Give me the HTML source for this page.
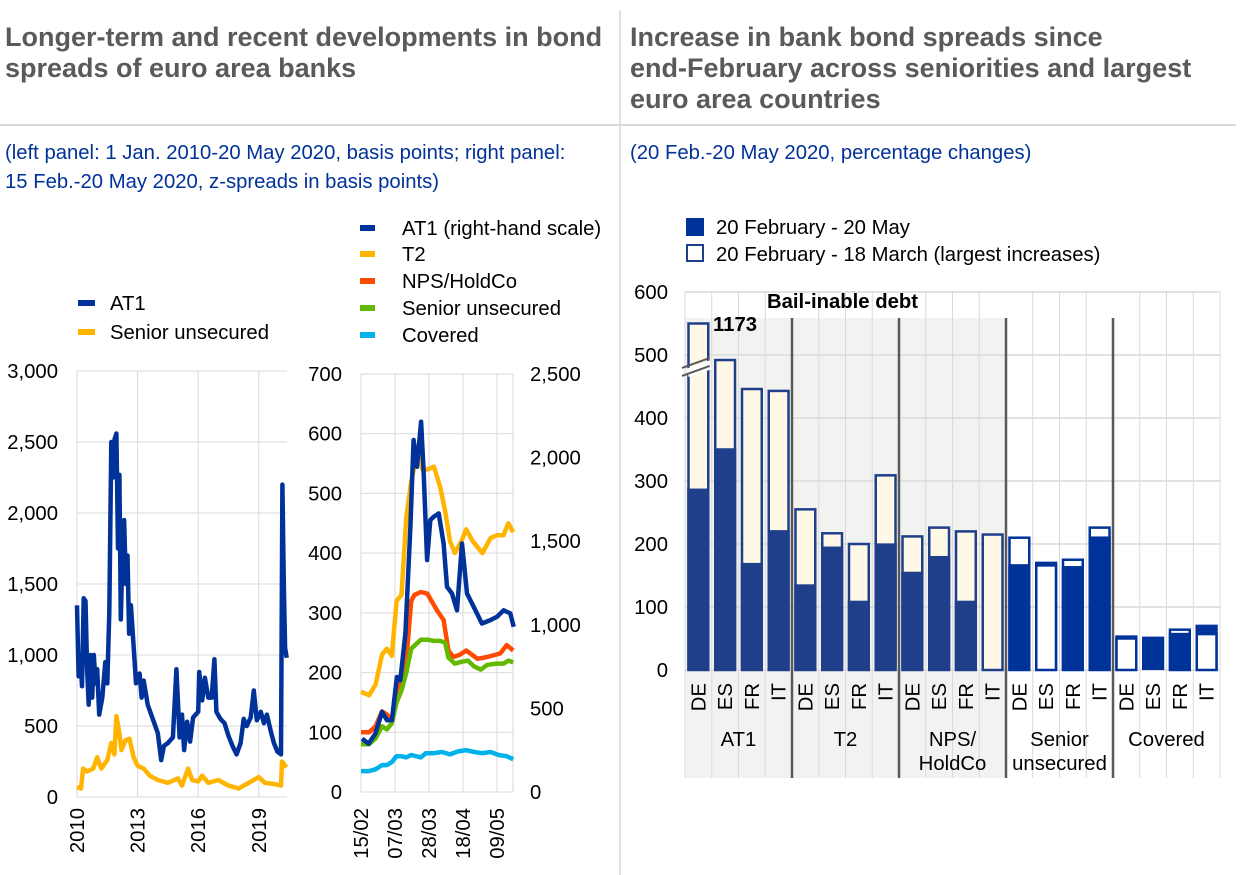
<!DOCTYPE html>
<html><head><meta charset="utf-8">
<style>
html,body{margin:0;padding:0;background:#fff;}
body{width:1240px;height:875px;overflow:hidden;position:relative;font-family:"Liberation Sans",Arial,sans-serif;}
.t{position:absolute;font-weight:bold;color:#5a5a5a;font-size:27px;line-height:31px;white-space:nowrap;}
.s{position:absolute;color:#003299;font-size:20.3px;line-height:29px;white-space:nowrap;}
svg{position:absolute;left:0;top:0;}
</style></head><body>
<div class="t" style="left:5px;top:22px;">Longer-term and recent developments in bond<br>spreads of euro area banks</div>
<div class="t" style="left:630px;top:22px;">Increase in bank bond spreads since<br>end-February across seniorities and largest<br>euro area countries</div>
<div class="s" style="left:5px;top:139px;">(left panel: 1 Jan. 2010-20 May 2020, basis points; right panel:<br>15 Feb.-20 May 2020, z-spreads in basis points)</div>
<div class="s" style="left:630px;top:139px;">(20 Feb.-20 May 2020, percentage changes)</div>
<svg id="c" width="1240" height="875" xmlns="http://www.w3.org/2000/svg"></svg>
<script>
// ---------- left panel data ----------
const ltYearsAT1=[2010.0,2010.08,2010.17,2010.25,2010.33,2010.42,2010.5,2010.58,2010.67,2010.75,2010.83,2010.92,2011.0,2011.1,2011.25,2011.4,2011.5,2011.6,2011.7,2011.78,2011.86,2011.95,2012.03,2012.1,2012.17,2012.25,2012.33,2012.42,2012.5,2012.58,2012.67,2012.83,2012.92,2013.1,2013.2,2013.3,2013.5,2013.8,2014.0,2014.17,2014.3,2014.5,2014.75,2014.92,2015.08,2015.2,2015.3,2015.45,2015.6,2015.75,2016.0,2016.05,2016.2,2016.33,2016.5,2016.67,2016.8,2016.9,2017.1,2017.3,2017.5,2017.7,2017.9,2018.1,2018.25,2018.4,2018.6,2018.75,2018.9,2019.1,2019.25,2019.4,2019.6,2019.75,2019.92,2020.1,2020.17,2020.24,2020.3,2020.38];
const ltAT1=[1350,850,1000,780,1400,1380,900,650,1000,700,1000,800,900,580,700,950,800,1300,2500,2250,2520,2560,1750,2270,1250,1700,1950,1500,1700,1150,1350,1000,800,870,700,820,650,530,450,260,360,380,420,900,420,580,330,530,390,560,600,880,680,840,700,700,970,600,550,520,430,360,300,380,550,500,560,750,540,600,520,580,460,380,320,300,2200,1500,1050,980];
const ltYearsSU=[2010.0,2010.2,2010.3,2010.5,2010.8,2011.0,2011.2,2011.5,2011.7,2011.85,2011.95,2012.1,2012.2,2012.4,2012.6,2012.8,2013.0,2013.3,2013.6,2014.0,2014.5,2015.0,2015.2,2015.5,2015.7,2016.0,2016.2,2016.5,2017.0,2017.5,2018.0,2018.5,2019.0,2019.3,2019.8,2020.1,2020.15,2020.3,2020.38];
const ltSU=[70,60,200,180,200,280,200,260,380,300,570,450,330,400,410,280,220,200,150,120,100,130,80,200,120,110,150,100,120,80,60,100,140,100,90,80,250,220,210];
const ltYTicks=[0,500,1000,1500,2000,2500,3000];
const ltYTickLabels=["0","500","1,000","1,500","2,000","2,500","3,000"];
const ltXTicks=[2010,2013,2016,2019];
// ---------- middle panel data (days since 15 Feb) ----------
const mdXTicks=[0,21,42,63,84];
const mdXTickLabels=["15/02","07/03","28/03","18/04","09/05"];
const mdYTicks=[0,100,200,300,400,500,600,700];
const mdY2Ticks=[0,500,1000,1500,2000,2500];
const mdY2TickLabels=["0","500","1,000","1,500","2,000","2,500"];
const t2Days=[0,5,9,13,16,19,22,25,28,31,33,36,38,41,45,49,52,55,58,60,62,65,69,75,80,84,88,91,94];
const t2Vals=[168,162,180,230,240,228,320,330,460,520,545,560,540,540,545,510,470,420,400,410,420,440,420,400,425,430,430,450,435];
const npsDays=[0,5,9,13,16,19,22,25,28,31,33,37,41,44,47,51,54,57,61,65,72,78,86,90,94];
const npsVals=[100,100,110,135,130,120,170,190,220,320,330,335,332,318,304,288,237,226,230,237,223,226,232,246,237];
const suDays=[0,5,9,13,16,19,22,25,28,31,33,37,41,45,49,52,54,58,62,66,70,74,78,84,88,91,94];
const suVals=[80,80,90,110,105,115,150,170,200,240,245,255,255,253,253,250,225,215,218,220,210,205,213,215,215,220,217];
const cvDays=[0,5,9,13,16,19,22,25,28,31,34,37,40,45,50,55,60,65,70,75,80,85,90,94];
const cvVals=[35,35,38,45,45,50,60,60,58,62,60,58,65,65,67,63,68,70,67,65,67,62,60,55];
const at1Days=[0.6,4.7,8.9,13,16.1,19.1,22.2,24.3,27.4,30.5,32.5,34.6,37.1,38.7,40.8,42.8,44.9,48,51,53.1,56.2,59.3,62.4,65.5,68.6,74.7,79.9,84,88.1,92.2,94.3];
const at1Vals=[319,289,349,479,429,430,688,668,948,1586,2105,1945,2215,1905,1387,1626,1646,1666,1486,1227,1187,1087,1486,1187,1127,1008,1028,1048,1087,1068,988];
// ---------- right panel data ----------
const rCountries=["DE","ES","FR","IT","DE","ES","FR","IT","DE","ES","FR","IT","DE","ES","FR","IT","DE","ES","FR","IT"];
const rGroups=["AT1","T2","NPS/ HoldCo","Senior unsecured","Covered"];
const rFeb20May=[288,352,170,222,136,196,110,201,156,181,110,0,168,172,165,212,55,53,59,72];
const rFeb18Mar=[550,492,446,443,255,217,200,309,212,226,220,215,210,166,175,226,50,53,64,57];
const rYTicks=[0,100,200,300,400,500,600];

const svg=document.getElementById('c');
const NS='http://www.w3.org/2000/svg';
function mk(tag,attrs,parent){const e=document.createElementNS(NS,tag);for(const k in attrs)e.setAttribute(k,attrs[k]);(parent||svg).appendChild(e);return e;}
function txt(s,x,y,attrs,parent){const e=mk('text',Object.assign({x:x,y:y,'font-family':'Liberation Sans, Arial, sans-serif','font-size':20.3,fill:'#000'},attrs||{}),parent);e.textContent=s;return e;}

let e;
e=mk('line',{x1:620,y1:10,x2:620,y2:875,stroke:'#d9d9d9','stroke-width':1.5});


e=mk('line',{x1:0,y1:125,x2:1236,y2:125,stroke:'#d9d9d9','stroke-width':2});



// ---------- left chart ----------
const lx=y=>77+(y-2010)*20.2;
const ly=v=>797-v*(426/3000);
const gL=mk('g',{});


ltYTicks.forEach((v,i)=>{
  e=mk('line',{x1:77,x2:287,y1:ly(v),y2:ly(v),stroke:'#d9d9d9','stroke-width':1},gL);
  
  
  e=txt(ltYTickLabels[i],58,ly(v)+7,{'text-anchor':'end'},gL);
  
  
});
ltXTicks.forEach(v=>{
  e=mk('line',{x1:lx(v),x2:lx(v),y1:ly(3000),y2:ly(0),stroke:'#d9d9d9','stroke-width':1},gL);
  
  
  e=txt(String(v),0,0,{'text-anchor':'end',transform:`translate(${lx(v)+7},808) rotate(-90)`},gL);
  
  
});
function line(xs,ys,fx,fy,col,parent,name){
  const d=xs.map((x,i)=>(i?'L':'M')+fx(x).toFixed(1)+','+fy(ys[i]).toFixed(1)).join('');
  const p=mk('path',{d:d,fill:'none',stroke:col,'stroke-width':4.5,'stroke-linejoin':'round'},parent);
  
  
}
line(ltYearsSU,ltSU,lx,ly,'#ffb400',gL,'senior-unsecured-line');
line(ltYearsAT1,ltAT1,lx,ly,'#003299',gL,'at1-line');
[['AT1','#003299',303],['Senior unsecured','#ffb400',332]].forEach(l=>{
  e=mk('rect',{x:78,y:l[2]-3,width:17,height:6,fill:l[1]});
  
  
  e=txt(l[0],110,l[2]+7);
  
  
});

// ---------- middle chart ----------
const mx=d=>361+d*(34/21);
const my=v=>792-v*(418/700);
const my2=v=>792-v*(418/2500);
const gM=mk('g',{});


mdYTicks.forEach(v=>{
  e=mk('line',{x1:361,x2:513,y1:my(v),y2:my(v),stroke:'#d9d9d9','stroke-width':1},gM);
  
  
  e=txt(String(v),342,my(v)+7,{'text-anchor':'end'},gM);
  
  
});
mdY2Ticks.forEach((v,i)=>{
  e=txt(mdY2TickLabels[i],530,my2(v)+7,{},gM);
  
  
});
e=mk('line',{x1:513,x2:513,y1:my(700),y2:my(0),stroke:'#d9d9d9','stroke-width':1},gM);


mdXTicks.forEach((v,i)=>{
  e=mk('line',{x1:mx(v),x2:mx(v),y1:my(700),y2:my(0),stroke:'#d9d9d9','stroke-width':1},gM);
  
  
  e=txt(mdXTickLabels[i],0,0,{'text-anchor':'end',transform:`translate(${mx(v)+7},808) rotate(-90)`},gM);
  
  
});
line(cvDays,cvVals,mx,my,'#00b1ea',gM,'covered-line');
line(t2Days,t2Vals,mx,my,'#ffb400',gM,'t2-line');
line(npsDays,npsVals,mx,my,'#ff4b00',gM,'nps-holdco-line');
line(suDays,suVals,mx,my,'#65b800',gM,'senior-unsecured-recent-line');
line(at1Days,at1Vals,mx,my2,'#003299',gM,'at1-recent-line');
[['AT1 (right-hand scale)','#003299',228],['T2','#ffb400',254],['NPS/HoldCo','#ff4b00',281],['Senior unsecured','#65b800',308],['Covered','#00b1ea',335]].forEach(l=>{
  e=mk('rect',{x:360,y:l[2]-3,width:15,height:6,fill:l[1]});
  
  
  e=txt(l[0],402,l[2]+7);
  
  
});

// ---------- right chart ----------
const X0=685,CW=26.75;
const rx=i=>X0+CW*i;
const ry=v=>670-v*0.63;
const gR=mk('g',{});


e=mk('rect',{x:X0,y:318,width:CW*12,height:460,fill:'#f2f2f0'},gR);


rYTicks.forEach(v=>{
  e=mk('line',{x1:X0,x2:X0+CW*20,y1:ry(v),y2:ry(v),stroke:'#d9d9d9','stroke-width':1.5},gR);
  
  
  e=txt(String(v),668,ry(v)+7,{'text-anchor':'end'},gR);
  
  
});
for(let i=0;i<=20;i++){
  if(i%4===0&&i>0&&i<20)continue;
  e=mk('line',{x1:rx(i),x2:rx(i),y1:ry(600),y2:778,stroke:'#d9d9d9','stroke-width':1},gR);
  
  
}
rCountries.forEach((c,i)=>{
  const bail=i<12;
  const dark=bail?'#1f3f8a':'#003399';
  const light=bail?'#fff8e6':'#ffffff';
  const edge=bail?'#1f3f8a':'#003399';
  const a=rFeb20May[i],b=rFeb18Mar[i];
  const x=rx(i)+3.5,w=CW-7;
  if(b>a){
    e=mk('rect',{x:x,y:ry(b),width:w,height:ry(0)-ry(b),fill:light,stroke:edge,'stroke-width':2.5},gR);
    
    
    e=mk('rect',{x:x-1.25,y:ry(a),width:w+2.5,height:ry(0)-ry(a),fill:dark},gR);
    
    
  }else{
    e=mk('rect',{x:x-1.25,y:ry(a),width:w+2.5,height:ry(0)-ry(a),fill:dark},gR);
    
    
    if(b<a){
      e=mk('rect',{x:x,y:ry(b),width:w,height:ry(0)-ry(b),fill:light,stroke:edge,'stroke-width':2.5},gR);
      
      
    }
  }
  e=txt(c,0,0,{'text-anchor':'end',transform:`translate(${rx(i)+CW/2+7},683) rotate(-90)`},gR);
  
  
});
e=mk('rect',{x:rx(0)+1,y:ry(485),width:CW-2,height:9,fill:'#ffffff',transform:`rotate(-20 ${rx(0)+CW/2} ${ry(481)})`},gR);


[-4,4].forEach(o=>{
  e=mk('line',{x1:rx(0)-3,y1:ry(481)+o+5,x2:rx(1)-2,y2:ry(481)+o-5,stroke:'#595959','stroke-width':2},gR);
  
  
});
e=txt('1173',713,331,{'font-weight':'bold'},gR);


e=txt('Bail-inable debt',767,308,{'font-weight':'bold'},gR);


[1,2,3,4].forEach(g=>{
  e=mk('line',{x1:rx(g*4),x2:rx(g*4),y1:318,y2:778,stroke:'#595959','stroke-width':2.5},gR);
  
  
});
rGroups.forEach((g,i)=>{
  const cx=rx(i*4)+CW*2;
  const parts=g.split(' ');
  if(parts.length===1){
    e=txt(g,cx,746,{'text-anchor':'middle'},gR);
  }else{
    e=txt(parts[0],cx,746,{'text-anchor':'middle'},gR);
    
    
    e=txt(parts[1],cx,770,{'text-anchor':'middle'},gR);
  }
  
  
});
e=mk('rect',{x:686,y:218,width:18,height:18,fill:'#003399'});


e=txt('20 February - 20 May',716,234);


e=mk('rect',{x:687,y:245,width:16,height:16,fill:'#fff',stroke:'#1f3f8a','stroke-width':2});


e=txt('20 February - 18 March (largest increases)',716,261);


</script>
</body></html>
